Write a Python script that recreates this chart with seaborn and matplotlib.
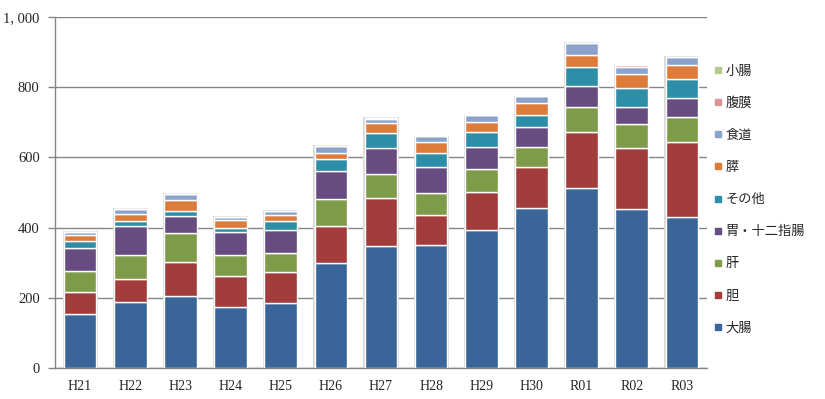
import matplotlib
matplotlib.use("Agg")
import matplotlib.pyplot as plt
from matplotlib.lines import Line2D
from matplotlib.ticker import FuncFormatter, MultipleLocator
import pandas as pd
import seaborn as sns

YEARS = ["H21", "H22", "H23", "H24", "H25", "H26", "H27",
         "H28", "H29", "H30", "R01", "R02", "R03"]

# stacked from the bottom up
DAICHO = [153, 188, 206, 174, 186, 300, 348, 351, 394, 455, 514, 452, 431]
TAN = [64, 66, 95, 89, 86, 103, 137, 84, 108, 119, 158, 174, 214]
KAN = [60, 68, 82, 60, 56, 78, 67, 65, 64, 57, 71, 69, 71]
I_JUNI = [65, 83, 51, 63, 64, 80, 76, 74, 63, 57, 60, 49, 54]
SONOTA = [21, 15, 14, 14, 28, 36, 43, 40, 43, 34, 54, 53, 54]
SUI = [15, 20, 30, 21, 17, 17, 27, 29, 29, 34, 34, 40, 41]
SHOKUDO = [10, 13, 18, 10, 11, 20, 12, 17, 19, 18, 36, 22, 22]
FUKUMAKU = [0, 0, 0, 0, 0, 0, 4, 0, 0, 0, 0, 4, 0]
SHOCHO = [0, 0, 0, 0, 0, 0, 0, 0, 0, 0, 0, 0, 0]

ORGANS = ["大腸", "胆", "肝", "胃・十二指腸", "その他", "膵", "食道", "腹膜", "小腸"]
SERIES = [DAICHO, TAN, KAN, I_JUNI, SONOTA, SUI, SHOKUDO, FUKUMAKU, SHOCHO]
COLOURS = ["#3A6599", "#A33C3C", "#7E9B4A", "#664C80", "#2E8DA7",
           "#DD7B3B", "#8BA3CB", "#D99694", "#B4CB8C"]

sns.set_theme(style="white")
plt.rcParams["font.family"] = ["Liberation Serif", "Noto Sans CJK JP"]

fig = plt.figure(figsize=(8.25, 3.99), dpi=100)
ax = fig.add_axes([55 / 825, 31.3 / 399, 652 / 825, 350.4 / 399])

# faint grey halo behind each column (Excel-style shadow)
totals = pd.DataFrame({"year": YEARS,
                       "total": [sum(v) + 1.5 for v in zip(*SERIES)]})
sns.barplot(data=totals, x="year", y="total", color="#DADADA", width=0.7,
            saturation=1, linewidth=0, ax=ax, order=YEARS, zorder=2)

# draw each layer on top of the previous cumulative total
base = [0] * len(YEARS)
for organ, vals, col in zip(ORGANS, SERIES, COLOURS):
    df = pd.DataFrame({"year": YEARS, "value": vals, "base": base})
    sns.barplot(data=df, x="year", y="value", bottom=df["base"], color=col,
                width=0.65, edgecolor="white", linewidth=1.0,
                saturation=1, ax=ax, order=YEARS, zorder=3)
    base = [b + v for b, v in zip(base, vals)]

ax.set_xlim(-0.5, 12.5)
ax.set_ylim(0, 1000)
ax.yaxis.set_major_locator(MultipleLocator(200))
ax.yaxis.set_major_formatter(FuncFormatter(lambda v, p: f"{int(v):,}".replace(",", ", ")))
ax.grid(axis="y", color="#868686", linewidth=1.0, zorder=0)
ax.set_axisbelow(True)
ax.set_xlabel("")
ax.set_ylabel("")

for side in ["top", "right"]:
    ax.spines[side].set_visible(False)
for side in ["left", "bottom"]:
    ax.spines[side].set_color("#868686")
    ax.spines[side].set_linewidth(1.0)

ax.tick_params(axis="y", left=True, length=5, width=1.0, color="#868686",
               labelsize=10.5, pad=6)
ax.tick_params(axis="x", bottom=False, labelsize=10, pad=3)

handles = [Line2D([], [], marker="s", linestyle="", markersize=4.5,
                  markerfacecolor=c, markeredgecolor=c)
           for c in COLOURS[::-1]]
leg = ax.legend(handles, ORGANS[::-1], loc="upper left",
                bbox_to_anchor=(0.859 * 825 / 652 - 55 / 652, 0.88),
                frameon=False, handlelength=0.6, handletextpad=0.3,
                labelspacing=1.45, borderaxespad=0,
                prop={"family": ["Noto Sans CJK JP"], "size": 9.5})

fig.savefig("out.png", dpi=100)
